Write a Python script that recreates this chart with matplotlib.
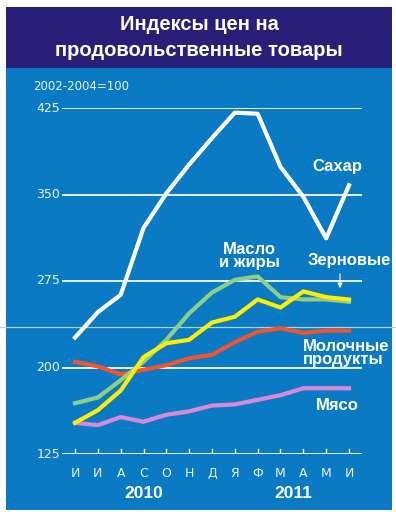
import matplotlib
matplotlib.use("Agg")
import matplotlib.pyplot as plt
from matplotlib.patches import Rectangle
from matplotlib.lines import Line2D

# months June 2010 .. June 2011
months = ["И", "И", "А", "С", "О", "Н", "Д", "Я", "Ф", "М", "А", "М", "И"]
years = ["2010", "2011"]
yticks = [125, 200, 275, 350, 425]

sugar = [226, 248, 263, 321, 351, 376, 399, 421, 420, 374, 348, 312, 358]
oils = [169, 174, 189, 205, 224, 247, 265, 276, 279, 261, 259, 259, 257]
cereals = [152, 163, 180, 209, 221, 224, 239, 244, 259, 252, 266, 261, 259]
dairy = [205, 201, 194, 198, 202, 208, 211, 222, 231, 234, 230, 232, 232]
meat = [152, 150, 157, 153, 159, 162, 167, 168, 172, 176, 182, 182, 182]

W, H = 396, 512
NAVY = "#2a1f78"
BLUE = "#0a7ac4"


def fx(px):
    return px / W


def fy(py):
    return 1 - py / H


fig = plt.figure(figsize=(W / 100, H / 100), dpi=100)
fig.patch.set_facecolor("white")

# background panels
fig.patches.append(Rectangle((fx(6), fy(510)), fx(386), (510 - 68) / H,
                             transform=fig.transFigure, facecolor=BLUE,
                             edgecolor="none", zorder=-2))
fig.patches.append(Rectangle((fx(6), fy(68)), fx(386), (68 - 7) / H,
                             transform=fig.transFigure, facecolor=NAVY,
                             edgecolor="none", zorder=-2))
# faint seam line across the picture
fig.lines.append(Line2D([0, 1], [fy(327), fy(327)], transform=fig.transFigure,
                        color="#a8d4f2", lw=0.9, zorder=-1))

fig.text(fx(199), fy(25), "Индексы цен на", color="white", fontsize=14.5,
         fontweight="bold", ha="center", va="center", family="Liberation Sans")
fig.text(fx(199), fy(50), "продовольственные товары", color="white",
         fontsize=14.5, fontweight="bold", ha="center", va="center",
         family="Liberation Sans")
fig.text(fx(33), fy(86), "2002-2004=100", color="#e8f2fa", fontsize=8.5,
         ha="left", va="center", family="DejaVu Sans")

ax = fig.add_axes([fx(62), fy(454), fx(300), 346 / H])
ax.set_zorder(2)
ax.set_facecolor("none")
x = list(range(len(months)))
ax.set_xlim(-0.57, 12.57)
ax.set_ylim(125, 425)

for v in yticks:
    ax.axhline(v, color="white", lw=1.4, alpha=0.9, zorder=1)
    ax.text(-0.65, v, str(v), color="#e8f2fa", fontsize=9, ha="right",
            va="center", family="DejaVu Sans")

# tick marks on the baseline
for i in x:
    ax.plot([i, i], [125, 129.5], color="white", lw=1, zorder=1)
    ax.text(i, 108, months[i], color="#e8f2fa", fontsize=9, ha="center",
            va="center", family="DejaVu Sans")

lw = 3
ax.plot(x, meat, color="#d98ad6", lw=lw, zorder=3, clip_on=False)
ax.plot(x, dairy, color="#f2552a", lw=lw, zorder=3, clip_on=False)
ax.plot(x, oils, color="#8ecf86", lw=lw, zorder=3, clip_on=False)
ax.plot(x, cereals, color="#ffee00", lw=lw, zorder=4, clip_on=False)
ax.plot(x, sugar, color="white", lw=lw, zorder=5, clip_on=False)

for s in ax.spines.values():
    s.set_visible(False)
ax.set_xticks([])
ax.set_yticks([])

lab = dict(color="white", fontsize=12, fontweight="bold", va="center",
           family="Liberation Sans", linespacing=0.9, zorder=6)
fig.text(fx(337), fy(167), "Сахар", ha="center", **lab)
fig.text(fx(249), fy(256), "Масло\nи жиры", ha="center", **lab)
fig.text(fx(349), fy(261), "Зерновые", ha="center", **lab)
fig.text(fx(303), fy(353), "Молочные\nпродукты", ha="left", **lab)
fig.text(fx(337), fy(405), "Мясо", ha="center", **lab)
ax.annotate("", xy=(fx(340), fy(291)), xytext=(fx(340), fy(271)),
            xycoords="figure fraction", textcoords="figure fraction",
            arrowprops=dict(arrowstyle="-|>", color="white", lw=0.8,
                            mutation_scale=7))

fig.text(fx(144), fy(494), years[0], ha="center", color="white", fontsize=12.5,
         fontweight="bold", va="center", family="Liberation Sans")
fig.text(fx(293), fy(494), years[1], ha="center", color="white", fontsize=12.5,
         fontweight="bold", va="center", family="Liberation Sans")

fig.savefig("out.png", dpi=100)
